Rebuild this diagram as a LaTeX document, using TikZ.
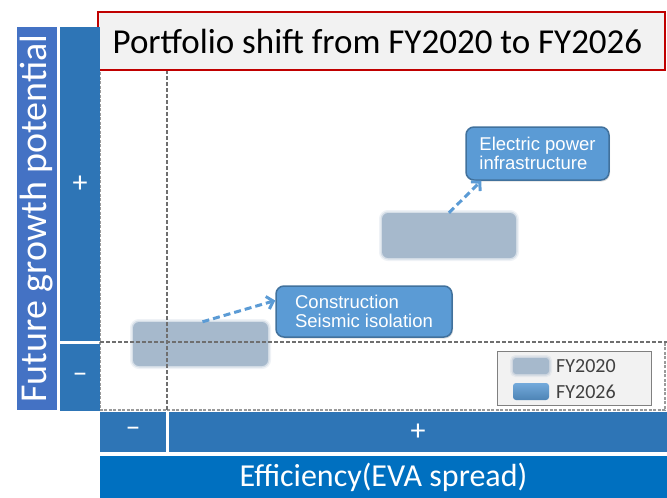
\documentclass[tikz,border=0pt]{standalone}
\usepackage{fontspec}
\setmainfont{Carlito}
\newfontfamily\arialf{Liberation Sans}
\usetikzlibrary{arrows.meta,shadows}
\definecolor{barA}{HTML}{4472C4}
\definecolor{barB}{HTML}{2E75B6}
\definecolor{barC}{HTML}{0070C0}
\definecolor{boxblue}{HTML}{5B9BD5}
\definecolor{boxedge}{HTML}{41719C}
\definecolor{grayc}{HTML}{A6B9CC}
\definecolor{dashc}{HTML}{6F6F6F}
\definecolor{titlered}{HTML}{C00000}
\definecolor{lightbg}{HTML}{F2F2F2}
\definecolor{legtext}{HTML}{404040}
\begin{document}
\begin{tikzpicture}[x=1pt,y=-1pt,
  axisbar/.style={fill=#1, draw=none, inner sep=0pt, text=white},
  oldbox/.style={fill=grayc, rounded corners=6pt, inner sep=0pt,
    preaction={draw=grayc, line width=6pt, draw opacity=0.18},
    preaction={draw=grayc, line width=3pt, draw opacity=0.35}},
  newbox/.style={fill=boxblue, draw=boxedge, line width=1.5pt, rounded corners=8pt,
    text=white, align=left, inner sep=0pt, font=\arialf\fontsize{18.5}{19}\selectfont,
    drop shadow={opacity=0.25, shadow xshift=1pt, shadow yshift=-1.5pt}},
  crossline/.style={draw=dashc, line width=2.6pt, dash pattern=on 4pt off 2pt},
  frameline/.style={draw=dashc!70, line width=1.8pt, dash pattern=on 3pt off 1.5pt},
  shiftarrow/.style={draw=boxblue, line width=3pt, dash pattern=on 7pt off 4pt,
    -{Straight Barb[length=6pt,width=13pt]}},
  legtxt/.style={anchor=west, inner sep=0pt, text=legtext, font=\fontsize{20}{22}\selectfont},
  signfont/.style={font=\fontsize{30}{32}\selectfont}
]
\useasboundingbox (0,0) rectangle (667,498);

% FY2020 boxes
\node[oldbox, minimum width=135pt, minimum height=44pt] (g1) at (200.5,344) {};
\node[oldbox, minimum width=134pt, minimum height=45pt] (g2) at (449,235.5) {};

% dashed frame and cross lines
\coordinate (fTL) at (100,27);
\coordinate (fBL) at (100,410);
\coordinate (fBR) at (665,410);
\coordinate (fMR) at (665,342);
\coordinate (fML) at (100,342);
\coordinate (fME) at (667,342);
\coordinate (vT) at (167,70);
\coordinate (vB) at (167,410);
\draw[frameline] (fTL) -- (fBL) -- (fBR) -- (fMR);
\draw[crossline] (fML) -- (fME);
\draw[crossline] (vT) -- (vB);

% FY2026 boxes
\node[newbox, minimum width=176pt, minimum height=51pt] (c1) at (364,311.5)
  {Construction\\Seismic isolation};
\node[newbox, minimum width=143pt, minimum height=53pt] (e1) at (537.5,153.5)
  {Electric power\\infrastructure};

% shift arrows
\draw[shiftarrow] ([xshift=2pt]g1.north) -- ([yshift=11pt]c1.west);
\draw[shiftarrow] (g2.north) -- ([xshift=16pt]e1.south west);

% legend
\node[fill=lightbg, draw=gray, line width=0.8pt, minimum width=154pt, minimum height=54pt, inner sep=0pt] (leg) at (574,378) {};
\node[oldbox, rounded corners=3pt, minimum width=36pt, minimum height=16pt] (sw1) at (531,366) {};
\node[top color=boxblue!85!white, bottom color=boxblue!85!black, rounded corners=3pt, inner sep=0pt,
  minimum width=36pt, minimum height=17pt] (sw2) at (531,391.5) {};
\node[legtxt] (lt1) at (556,366) {FY2020};
\node[legtxt] (lt2) at (556,392) {FY2026};

% title
\node[fill=lightbg, draw=titlered, line width=1.5pt, minimum width=567pt, minimum height=58pt,
  inner sep=0pt, font=\fontsize{35}{40}\selectfont] (title) at (381.5,41)
  {Portfolio shift from FY2020 to FY2026\hspace*{8pt}};

% axis bars
\node[axisbar=barA, rotate=90, minimum width=383pt, minimum height=40pt,
  font=\fontsize{38}{40}\selectfont] (ytitle) at (37,218.5) {Future growth potential};
\node[axisbar=barB, signfont, minimum width=40pt, minimum height=314pt] (yplus) at (80,184) {+};
\node[axisbar=barB, signfont, minimum width=40pt, minimum height=67pt] (yminus) at (80,377.5) {–};
\node[axisbar=barB, signfont, minimum width=66pt, minimum height=40pt] (xminus) at (133,432) {–};
\node[axisbar=barB, signfont, minimum width=498pt, minimum height=40pt] (xplus) at (418,432) {+};
\node[axisbar=barC, minimum width=567pt, minimum height=42pt, font=\fontsize{32}{36}\selectfont] (xtitle) at (383.5,477) {Efficiency(EVA spread)};
\end{tikzpicture}
\end{document}
